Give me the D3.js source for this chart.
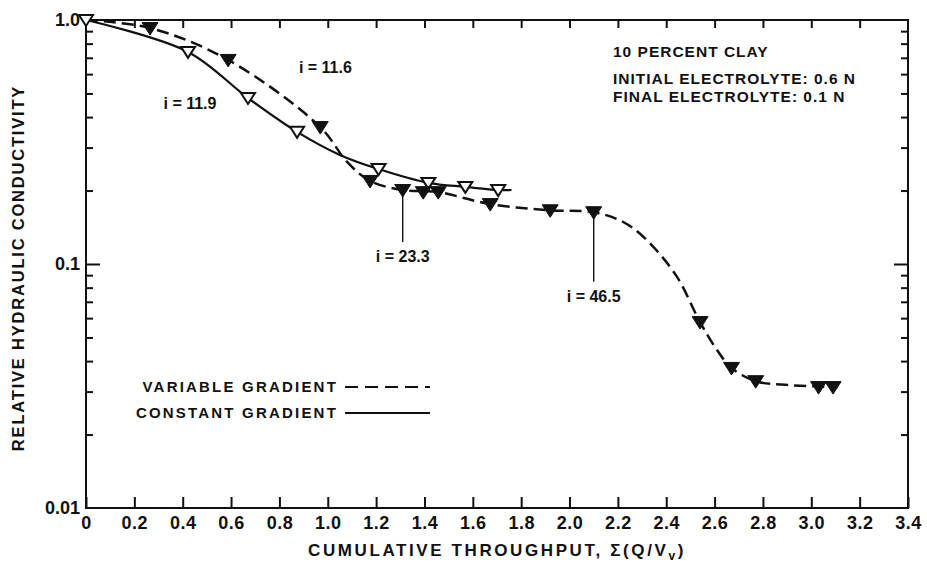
<!DOCTYPE html>
<html>
<head>
<meta charset="utf-8">
<script src="https://cdn.jsdelivr.net/npm/d3@7/dist/d3.min.js"></script>
<style>
  html, body { margin: 0; padding: 0; background: #fff; }
  svg { display: block; }
  text { font-family: "Liberation Sans", Arial, sans-serif; fill: #111; }
</style>
</head>
<body>
<svg id="chart" width="927" height="562"></svg>
<script>
// Cumulative throughput, Σ(Q/Vv), versus relative hydraulic conductivity (K/K0)

// Measured points, variable-gradient run (filled triangles)
const variableX = [0.265, 0.588, 0.969, 1.175, 1.31, 1.395, 1.457, 1.672, 1.92, 2.10, 2.54, 2.67, 2.77, 3.03, 3.09];
const variableK = [0.927, 0.686, 0.364, 0.219, 0.201, 0.197, 0.197, 0.176, 0.166, 0.163, 0.0578, 0.0375, 0.0331, 0.0313, 0.0313];

// Measured points, constant-gradient run (open triangles)
const constantX = [0, 0.422, 0.67, 0.873, 1.21, 1.416, 1.569, 1.705];
const constantK = [1.0, 0.74, 0.479, 0.348, 0.245, 0.215, 0.207, 0.201];

// Hand-fitted curves through each run
const variableCurveX = [0, 0.265, 0.588, 0.969, 1.08, 1.175, 1.31, 1.457, 1.672, 1.92, 2.10, 2.22, 2.31, 2.44, 2.54, 2.61, 2.67, 2.77, 2.91, 3.11];
const variableCurveK = [1.0, 0.927, 0.686, 0.364, 0.262, 0.219, 0.201, 0.197, 0.176, 0.166, 0.163, 0.149, 0.128, 0.09, 0.0578, 0.0444, 0.0375, 0.0331, 0.0319, 0.0313];
const constantCurveX = [0, 0.422, 0.67, 0.873, 1.05, 1.21, 1.416, 1.569, 1.705, 1.76];
const constantCurveK = [1.0, 0.74, 0.479, 0.348, 0.28, 0.245, 0.215, 0.207, 0.201, 0.201];

// Axis ticks
const xTicks = [0, 0.2, 0.4, 0.6, 0.8, 1.0, 1.2, 1.4, 1.6, 1.8, 2.0, 2.2, 2.4, 2.6, 2.8, 3.0, 3.2, 3.4];
const xTickLabels = ["0", "0.2", "0.4", "0.6", "0.8", "1.0", "1.2", "1.4", "1.6", "1.8", "2.0", "2.2", "2.4", "2.6", "2.8", "3.0", "3.2", "3.4"];
const yMajor = [0.01, 0.1, 1.0];
const yMajorLabels = ["0.01", "0.1", "1.0"];
const yMinor = [0.02, 0.03, 0.04, 0.05, 0.06, 0.07, 0.08, 0.09, 0.2, 0.3, 0.4, 0.5, 0.6, 0.7, 0.8, 0.9];

// Gradient call-outs: value of i, label position (x, K) and optional leader from a point
const callouts = [
  { label: "i = 11.6", x: 0.99, k: 0.642 },
  { label: "i = 11.9", x: 0.43, k: 0.457 },
  { label: "i = 23.3", x: 1.31, k: 0.107, from: 0.201, leaderTo: 0.123 },
  { label: "i = 46.5", x: 2.10, k: 0.074, from: 0.163, leaderTo: 0.0845 }
];

(function draw() {
  const svg = d3.select("#chart");
  const mLeft = 86, mRight = 908, mTop = 20, mBottom = 508;

  const x = d3.scaleLinear().domain([0, 3.4]).range([mLeft, mRight]);
  const y = d3.scaleLog().domain([0.01, 1]).range([mBottom, mTop]);

  const ink = "#111";

  // Frame
  svg.append("rect")
    .attr("x", mLeft).attr("y", mTop)
    .attr("width", mRight - mLeft).attr("height", mBottom - mTop)
    .attr("fill", "none").attr("stroke", ink).attr("stroke-width", 2);

  function styleAxis(g) {
    g.select(".domain").remove();
    g.selectAll(".tick line").attr("stroke", ink).attr("stroke-width", 2);
  }

  // Bottom axis with labels
  const xAxisBottom = svg.append("g")
    .attr("transform", `translate(0,${mBottom})`)
    .call(d3.axisBottom(x).tickValues(xTicks).tickSize(-11)
      .tickFormat((d, i) => xTickLabels[i]));
  styleAxis(xAxisBottom);
  xAxisBottom.selectAll(".tick text")
    .attr("y", 8).attr("dy", "0.71em")
    .style("font-size", "18px").style("font-weight", "bold").style("letter-spacing", "0.5px")
    .attr("fill", ink);

  // Top axis (ticks only)
  const xAxisTop = svg.append("g")
    .attr("transform", `translate(0,${mTop})`)
    .call(d3.axisTop(x).tickValues(xTicks.slice(1, -1)).tickSize(-8).tickFormat(""));
  styleAxis(xAxisTop);

  // Left axis: minor ticks, major ticks with labels
  const yLeftMinor = svg.append("g")
    .attr("transform", `translate(${mLeft},0)`)
    .call(d3.axisLeft(y).tickValues(yMinor).tickSize(-7).tickFormat(""));
  styleAxis(yLeftMinor);
  const yLeftMajor = svg.append("g")
    .attr("transform", `translate(${mLeft},0)`)
    .call(d3.axisLeft(y).tickValues(yMajor).tickSize(-14)
      .tickFormat((d, i) => yMajorLabels[i]));
  styleAxis(yLeftMajor);
  yLeftMajor.selectAll(".tick line").filter(d => d === 0.01 || d === 1.0).remove();
  yLeftMajor.selectAll(".tick text")
    .attr("x", -6)
    .style("font-size", "18px").style("font-weight", "bold").attr("fill", ink);

  // Right axis (ticks only)
  const yRightMinor = svg.append("g")
    .attr("transform", `translate(${mRight},0)`)
    .call(d3.axisRight(y).tickValues(yMinor).tickSize(-7).tickFormat(""));
  styleAxis(yRightMinor);
  const yRightMajor = svg.append("g")
    .attr("transform", `translate(${mRight},0)`)
    .call(d3.axisRight(y).tickValues([0.1]).tickSize(-14).tickFormat(""));
  styleAxis(yRightMajor);

  // Axis titles
  const xTitle = svg.append("text")
    .attr("x", 497).attr("y", 556)
    .attr("text-anchor", "middle")
    .style("font-size", "17px").style("font-weight", "bold").style("letter-spacing", "2.6px");
  xTitle.append("tspan").text("CUMULATIVE THROUGHPUT, Σ(Q/V");
  xTitle.append("tspan").attr("dy", 4).style("font-size", "12px").text("v");
  xTitle.append("tspan").attr("dy", -4).text(")");

  svg.append("text")
    .attr("transform", "translate(24,268) rotate(-90)")
    .attr("text-anchor", "middle")
    .style("font-size", "16.5px").style("font-weight", "bold").style("letter-spacing", "1.8px")
    .text("RELATIVE HYDRAULIC CONDUCTIVITY");

  // Curves
  const line = d3.line()
    .x(d => x(d[0])).y(d => y(d[1]))
    .curve(d3.curveCatmullRom.alpha(0.5));

  svg.append("path")
    .datum(d3.zip(variableCurveX, variableCurveK))
    .attr("d", line)
    .attr("fill", "none").attr("stroke", ink).attr("stroke-width", 2.5)
    .attr("stroke-dasharray", "12,6");

  svg.append("path")
    .datum(d3.zip(constantCurveX, constantCurveK))
    .attr("d", line)
    .attr("fill", "none").attr("stroke", ink).attr("stroke-width", 2.2);

  // Downward-pointing triangle markers
  const triOpen = "M-7,-5L7,-5L0,6Z";
  const triFilled = "M-8,-5.5L8,-5.5L0,7Z";

  // Call-out leaders
  callouts.filter(c => c.leaderTo).forEach(c => {
    svg.append("line")
      .attr("x1", x(c.x)).attr("x2", x(c.x))
      .attr("y1", y(c.from)).attr("y2", y(c.leaderTo))
      .attr("stroke", ink).attr("stroke-width", 1.4);
  });

  svg.append("g").selectAll("path")
    .data(d3.zip(constantX, constantK))
    .join("path")
    .attr("transform", d => `translate(${x(d[0])},${y(d[1])})`)
    .attr("d", triOpen)
    .attr("fill", "#fff").attr("stroke", ink).attr("stroke-width", 2);

  svg.append("g").selectAll("path")
    .data(d3.zip(variableX, variableK))
    .join("path")
    .attr("transform", d => `translate(${x(d[0])},${y(d[1])})`)
    .attr("d", triFilled)
    .attr("fill", ink).attr("stroke", ink).attr("stroke-width", 1);

  // Call-out labels
  callouts.forEach(c => {
    svg.append("text")
      .attr("x", x(c.x)).attr("y", y(c.k))
      .attr("dy", "0.35em")
      .attr("text-anchor", "middle")
      .style("font-size", "16px").style("font-weight", "bold")
      .text(c.label);
  });

  // Notes, upper right
  const notes = ["10 PERCENT CLAY", "INITIAL ELECTROLYTE: 0.6 N", "FINAL ELECTROLYTE: 0.1 N"];
  const noteY = [52, 79, 97];
  notes.forEach((t, i) => {
    svg.append("text")
      .attr("x", 613).attr("y", noteY[i]).attr("dy", "0.35em")
      .style("font-size", "15.5px").style("font-weight", "bold").style("letter-spacing", "1px")
      .text(t);
  });

  // Legend
  const legend = [
    { label: "VARIABLE GRADIENT", dash: "13,7", yPos: 387 },
    { label: "CONSTANT GRADIENT", dash: null, yPos: 413 }
  ];
  legend.forEach(l => {
    svg.append("text")
      .attr("x", 338).attr("y", l.yPos).attr("dy", "0.35em")
      .attr("text-anchor", "end")
      .style("font-size", "15px").style("font-weight", "bold").style("letter-spacing", "2.2px")
      .text(l.label);
    svg.append("line")
      .attr("x1", 345).attr("x2", 430)
      .attr("y1", l.yPos).attr("y2", l.yPos)
      .attr("stroke", ink).attr("stroke-width", 2)
      .attr("stroke-dasharray", l.dash);
  });
})();
</script>
</body>
</html>
